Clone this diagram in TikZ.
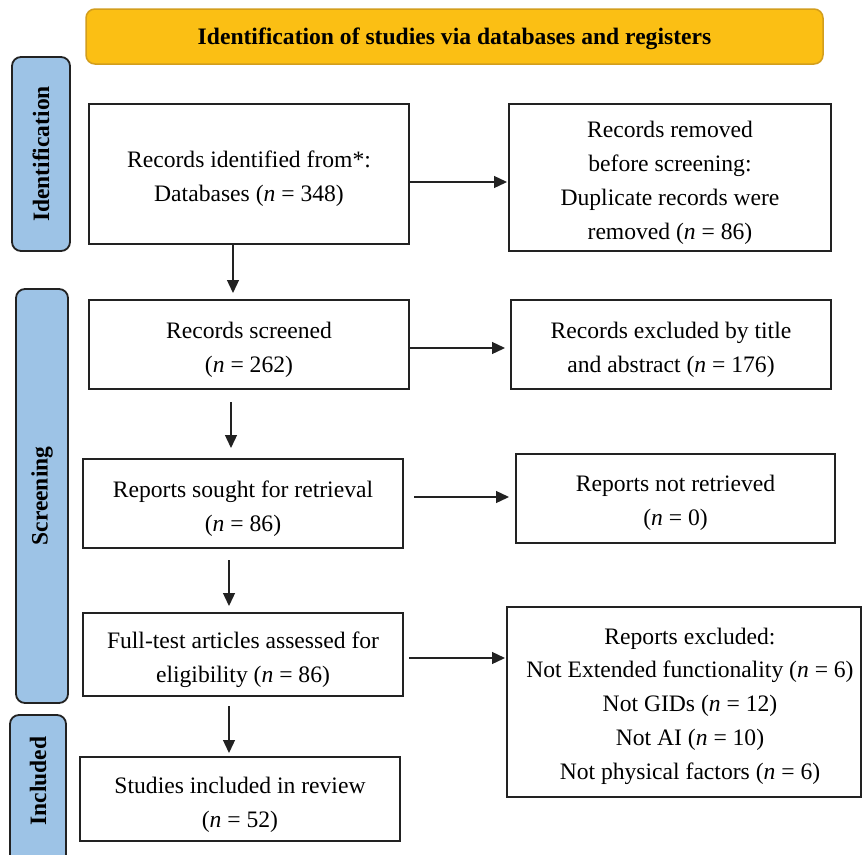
\documentclass[tikz,border=0pt]{standalone}
\usepackage{fontspec}
\setmainfont{Liberation Serif}
\usetikzlibrary{arrows.meta}
\definecolor{hdr}{HTML}{FBBF14}
\definecolor{hdrline}{HTML}{D39E1C}
\definecolor{sidefill}{HTML}{9DC3E6}
\definecolor{ink}{HTML}{222222}
\begin{document}
\begin{tikzpicture}[x=1pt,y=-1pt,
  box/.style={draw=ink, line width=2.1pt, inner sep=0pt},
  boxtext/.style={align=center, inner sep=0pt, font=\fontsize{23.6}{33.8}\selectfont},
  sidebox/.style={draw=ink, line width=1.8pt, fill=sidefill, rounded corners=9pt},
  sidelabel/.style={rotate=90, inner sep=0pt, font=\fontsize{23.5}{28}\selectfont\bfseries},
  arr/.style={-{Triangle[length=13pt,width=12pt]}, line width=1.3pt, draw=ink}]
\clip (0,0) rectangle (862,854);
\fill[white] (0,0) rectangle (862,854);

% header
\draw[fill=hdr, draw=hdrline, line width=1.5pt, rounded corners=9pt] (86,9) rectangle (823,64);
\node[inner sep=0pt, font=\fontsize{23.6}{28}\selectfont\bfseries] (header) at (454.5,39) {Identification of studies via databases and registers};

% side bars
\draw[sidebox] (12,57) rectangle (70,251);
\node[sidelabel] (lid) at (41,154) {Identification};
\draw[sidebox] (16,289) rectangle (68,703);
\node[sidelabel] (lscr) at (42,496) {Screening};
\draw[sidebox] (10,715) rectangle (66,880);
\node[sidelabel] (linc) at (38,781) {Included};

% boxes
\node[box, minimum width=320pt, minimum height=140pt] (b1) at (249,174) {};
\node[boxtext] (b1t) at (249,179) {Records identified from*:\\Databases (\textit{n} = 348)};
\node[box, minimum width=322pt, minimum height=147pt] (b2) at (670,177.5) {};
\node[boxtext] (b2t) at (670,183) {Records removed\\before screening:\\Duplicate records were\\removed (\textit{n} = 86)};
\node[box, minimum width=320pt, minimum height=89pt] (b3) at (249,344.5) {};
\node[boxtext] (b3t) at (249,349.5) {Records screened\\(\textit{n} = 262)};
\node[box, minimum width=320pt, minimum height=89pt] (b4) at (671,344.5) {};
\node[boxtext] (b4t) at (671,349.5) {Records excluded by title\\and abstract (\textit{n} = 176)};
\node[box, minimum width=320pt, minimum height=89pt] (b5) at (243,503.5) {};
\node[boxtext] (b5t) at (243,508.5) {Reports sought for retrieval\\(\textit{n} = 86)};
\node[box, minimum width=319pt, minimum height=89pt] (b6) at (675.5,498.5) {};
\node[boxtext] (b6t) at (675.5,503) {Reports not retrieved\\(\textit{n} = 0)};
\node[box, minimum width=320pt, minimum height=83pt] (b7) at (243,654.5) {};
\node[boxtext] (b7t) at (243,660) {Full-test articles assessed for\\eligibility (\textit{n} = 86)};
\node[box, minimum width=354pt, minimum height=190pt] (b8) at (684,702) {};
\node[boxtext] (b8t) at (690,706)
  {Reports excluded:\\Not Extended functionality (\textit{n} = 6)\\Not GIDs (\textit{n} = 12)\\Not AI (\textit{n} = 10)\\Not physical factors (\textit{n} = 6)};
\node[box, minimum width=320pt, minimum height=84pt] (b9) at (240,799) {};
\node[boxtext] (b9t) at (240,805) {Studies included in review\\(\textit{n} = 52)};

% connector ends
\coordinate (r1) at (507,182);
\coordinate (r2) at (505,348);
\coordinate (r3s) at (414,497);
\coordinate (r3e) at (509,497);
\coordinate (r4s) at (409,658);
\coordinate (r4e) at (505,658);
\coordinate (d1e) at (233,293);
\coordinate (d2s) at (231,402);
\coordinate (d2e) at (231,448);
\coordinate (d3s) at (229,560);
\coordinate (d3e) at (229,606);
\coordinate (d4s) at (229,706);
\coordinate (d4e) at (229,753);

% connectors
\draw[arr] (b1.east |- r1) -- (r1);
\draw[arr] (b3.east |- r2) -- (r2);
\draw[arr] (r3s) -- (r3e);
\draw[arr] (r4s) -- (r4e);
\draw[arr] (b1.south -| d1e) -- (d1e);
\draw[arr] (d2s) -- (d2e);
\draw[arr] (d3s) -- (d3e);
\draw[arr] (d4s) -- (d4e);
\end{tikzpicture}
\end{document}
